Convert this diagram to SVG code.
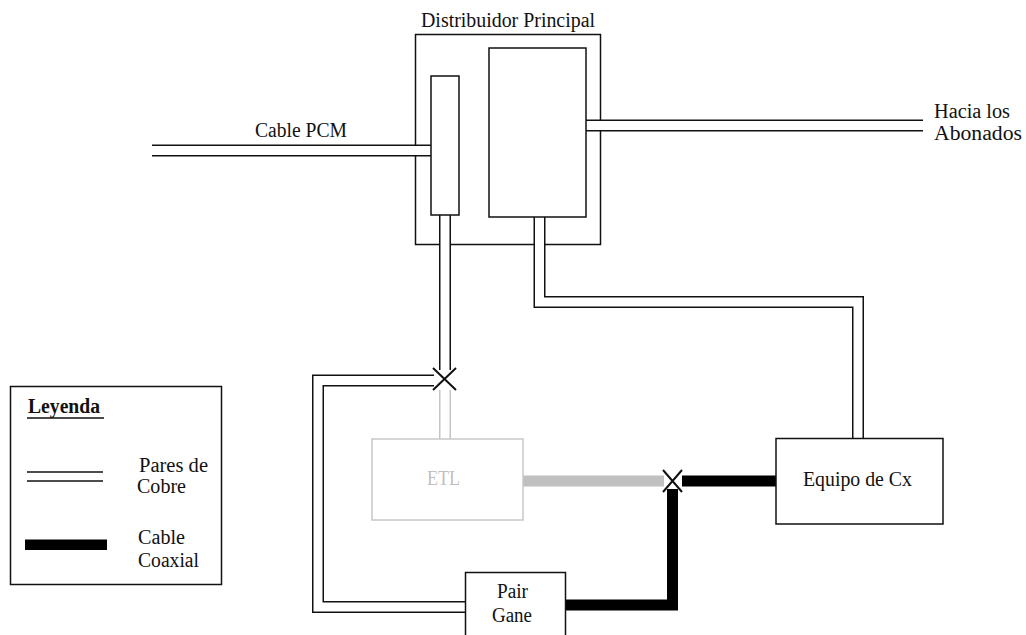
<svg xmlns="http://www.w3.org/2000/svg" width="1026" height="635" viewBox="0 0 1026 635">
<style>
text{font-family:"Liberation Serif","Times New Roman",serif;font-size:20px;fill:#111}
.box{fill:#fff;stroke:#111;stroke-width:1.5}
.gbox{fill:#fff;stroke:#c8c8c8;stroke-width:1.5}
.dblo{fill:none;stroke:#111;stroke-width:12;stroke-linejoin:miter}
.dbli{fill:none;stroke:#fff;stroke-width:9;stroke-linejoin:miter}
.gdblo{fill:none;stroke:#c4c4c4;stroke-width:12}
.coax{fill:none;stroke:#000;stroke-width:11;stroke-linejoin:miter}
.gcoax{fill:none;stroke:#c0c0c0;stroke-width:11}
.xm{stroke:#111;stroke-width:2;fill:none}
</style>
<rect width="1026" height="635" fill="#fff"/>
<g id="distribuidor-outer">
<rect class="box" x="415.5" y="34.5" width="185" height="210" fill="none"/>
<text x="421" y="27" textLength="174" lengthAdjust="spacingAndGlyphs">Distribuidor Principal</text>
</g>
<g id="connectors">
<path class="dblo" d="M152 150.5H431"/><path class="dbli" d="M152 150.5H431"/>
<path class="dblo" d="M586 125.5H923"/><path class="dbli" d="M586 125.5H923"/>
<path class="dblo" d="M445 215V370"/><path class="dbli" d="M445 215V370"/>
<path class="dblo" d="M539.5 217V302H858V439"/><path class="dbli" d="M539.5 217V302H858V439"/>
<path class="dblo" d="M434 380.5H318V607H465"/><path class="dbli" d="M434 380.5H318V607H465"/>
<path class="gdblo" d="M445 390V439"/><path class="dbli" d="M445 390V439"/>
<path class="gcoax" d="M523 481H664"/>
<path class="coax" d="M682 481H776"/>
<path class="coax" d="M672.5 489V605H566"/>
<path class="xm" d="M433 368L456 390M456 368L433 390"/>
<path class="xm" d="M663 470L682 492M682 470L663 492"/>
</g>
<g id="regleta">
<rect class="box" x="431" y="76" width="28" height="139"/>
</g>
<g id="bloque">
<rect class="box" x="489" y="48" width="97" height="169"/>
</g>
<g id="labels">
<text x="255" y="137" textLength="92" lengthAdjust="spacingAndGlyphs">Cable PCM</text>
<text x="934" y="118" textLength="76" lengthAdjust="spacingAndGlyphs">Hacia los</text>
<text x="934" y="140" textLength="88" lengthAdjust="spacingAndGlyphs">Abonados</text>
</g>
<g id="etl">
<rect class="gbox" x="372" y="439" width="151" height="81"/>
<text x="427" y="485" textLength="33" lengthAdjust="spacingAndGlyphs" style="fill:#c0c0c0">ETL</text>
</g>
<g id="equipo">
<rect class="box" x="776" y="438.5" width="167" height="85.5"/>
<text x="803" y="486" textLength="109" lengthAdjust="spacingAndGlyphs">Equipo de Cx</text>
</g>
<g id="pairgane">
<rect class="box" x="465.5" y="572.5" width="100" height="70"/>
<text x="497" y="598" textLength="31" lengthAdjust="spacingAndGlyphs">Pair</text>
<text x="492" y="622" textLength="40" lengthAdjust="spacingAndGlyphs">Gane</text>
</g>
<g id="leyenda">
<rect class="box" x="10.5" y="386.5" width="211" height="198"/>
<text x="28" y="413" textLength="72" lengthAdjust="spacingAndGlyphs" style="font-weight:bold">Leyenda</text>
<line x1="27" y1="418" x2="104" y2="418" stroke="#111" stroke-width="1.5"/>
<line x1="27" y1="472" x2="103" y2="472" stroke="#111" stroke-width="1.5"/>
<line x1="27" y1="481" x2="103" y2="481" stroke="#111" stroke-width="1.5"/>
<text x="139" y="472" textLength="69" lengthAdjust="spacingAndGlyphs">Pares de</text>
<text x="137" y="493" textLength="49" lengthAdjust="spacingAndGlyphs">Cobre</text>
<rect x="25" y="539.5" width="82" height="10.5" fill="#000"/>
<text x="138" y="544" textLength="47" lengthAdjust="spacingAndGlyphs">Cable</text>
<text x="138" y="567" textLength="61" lengthAdjust="spacingAndGlyphs">Coaxial</text>
</g>
</svg>
